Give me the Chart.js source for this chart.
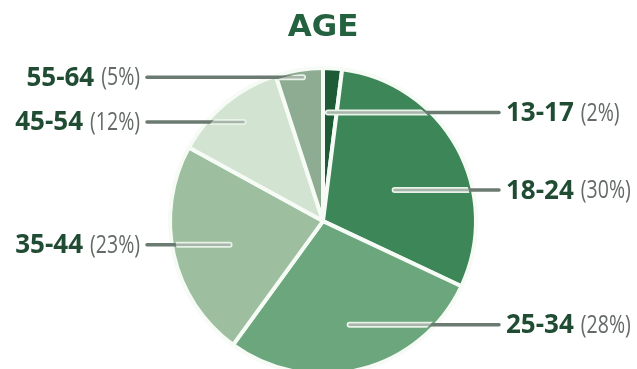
<!DOCTYPE html>
<html>
<head>
<meta charset="utf-8">
<script src="https://cdn.jsdelivr.net/npm/chart.js@4.4.0/dist/chart.umd.min.js"></script>
<style>
  html, body { margin: 0; padding: 0; background: #fff; }
</style>
</head>
<body>
<canvas id="ageChart" width="637" height="369"></canvas>
<script>
const ages = ['13-17', '18-24', '25-34', '35-44', '45-54', '55-64'];
const shares = [2, 30, 28, 23, 12, 5];
const sliceColors = ['#1d5b37', '#3c8657', '#6ba67d', '#9dbf9f', '#d3e3d1', '#8dac91'];

// where each leader line starts inside its slice: part of the sweep, part of the radius
const leaderSweep = [0.36, 0.55, 0.50, 0.48, 0.52, 0.56];
const leaderDepth = [0.71, 0.51, 0.70, 0.63, 0.83, 0.95];

const leaders = {
  id: 'leaders',
  afterDatasetsDraw(chart) {
    const ctx = chart.ctx;
    const arcs = chart.getDatasetMeta(0).data;
    arcs.forEach((arc, i) => {
      const {x, y, startAngle, endAngle, outerRadius} =
        arc.getProps(['x', 'y', 'startAngle', 'endAngle', 'outerRadius'], true);
      const a = startAngle + (endAngle - startAngle) * leaderSweep[i];
      const r = outerRadius * leaderDepth[i];
      const ax = x + Math.cos(a) * r, ay = y + Math.sin(a) * r;
      const left = ax < x;
      const ex = left ? x - 176 : x + 176;

      ctx.save();
      ctx.lineCap = 'round';
      ctx.strokeStyle = '#6b7b71';
      ctx.lineWidth = 3.5;
      ctx.beginPath(); ctx.moveTo(ax, ay); ctx.lineTo(ex, ay); ctx.stroke();

      // the stretch over the pie is drawn hollow
      ctx.save();
      ctx.beginPath(); ctx.arc(x, y, outerRadius - 4, 0, Math.PI * 2); ctx.clip();
      ctx.strokeStyle = '#e8f2e8'; ctx.lineWidth = 6;
      ctx.beginPath(); ctx.moveTo(ax, ay); ctx.lineTo(ex, ay); ctx.stroke();
      ctx.strokeStyle = 'rgba(125,140,130,0.6)'; ctx.lineWidth = 2.5;
      ctx.beginPath(); ctx.moveTo(ax, ay); ctx.lineTo(ex, ay); ctx.stroke();
      ctx.restore();

      const name = ages[i], pct = '(' + shares[i] + '%)';
      const squeeze = 0.78, gap = 7;
      ctx.textBaseline = 'middle';
      ctx.font = 'bold 26px "Open Sans"';
      const nw = ctx.measureText(name).width;
      ctx.font = '25px "Open Sans"';
      const pw = ctx.measureText(pct).width * squeeze;
      const tx = left ? ex - 7 - (nw + gap + pw) : ex + 7;

      ctx.font = 'bold 26px "Open Sans"';
      ctx.fillStyle = '#214c34';
      ctx.fillText(name, tx, ay + 1);
      ctx.font = '25px "Open Sans"';
      ctx.fillStyle = '#646a66';
      ctx.translate(tx + nw + gap, ay + 1);
      ctx.scale(squeeze, 1);
      ctx.fillText(pct, 0, 0);
      ctx.restore();
    });
  }
};

new Chart(document.getElementById('ageChart'), {
  type: 'pie',
  data: {
    labels: ages,
    datasets: [{
      data: shares,
      backgroundColor: sliceColors,
      borderColor: '#f6fbf6',
      borderWidth: 4,
      clip: false
    }]
  },
  options: {
    responsive: false,
    animation: false,
    events: [],
    radius: 153,
    layout: { padding: { left: 9 } },
    plugins: {
      legend: { display: false },
      tooltip: { enabled: false },
      title: {
        display: true,
        text: 'AGE',
        color: '#23613f',
        font: { family: 'DejaVu Sans', size: 31, weight: 'bold' },
        padding: { top: 9, bottom: 27 }
      }
    }
  },
  plugins: [leaders]
});
</script>
</body>
</html>
